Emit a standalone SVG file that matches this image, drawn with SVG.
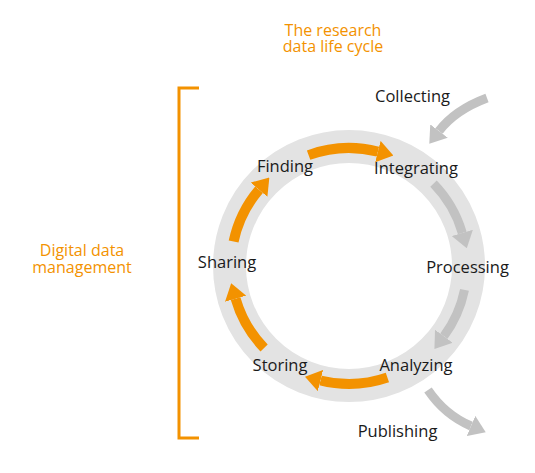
<svg xmlns="http://www.w3.org/2000/svg" width="535" height="473" viewBox="0 0 535 473">
<style>
.lbl{font-family:"Open Sans","Liberation Sans",sans-serif;font-size:16.5px;fill:#1a1a1a;text-anchor:middle}
.ttl{font-family:"Open Sans","Liberation Sans",sans-serif;font-size:16px;fill:#F39200;text-anchor:middle}
.oa{fill:none;stroke:#F39200;stroke-width:10;marker-end:url(#ho)}
.ga{fill:none;stroke:#C2C2C2;stroke-width:9;marker-end:url(#hg)}
</style>
<defs>
<marker id="ho" viewBox="0 0 16 22" refX="0" refY="11" markerWidth="16" markerHeight="22" markerUnits="userSpaceOnUse" orient="auto"><polygon points="0,0 16,11 0,22" fill="#F39200"/></marker>
<marker id="hg" viewBox="0 0 16 22" refX="0" refY="11" markerWidth="16" markerHeight="22" markerUnits="userSpaceOnUse" orient="auto"><polygon points="0,0 16,11 0,22" fill="#C2C2C2"/></marker>
</defs>
<rect width="535" height="473" fill="#fff"/>
<g id="ring"><circle cx="349" cy="266" r="119.5" fill="none" stroke="#E3E3E3" stroke-width="33"/></g>
<g id="bracket"><path d="M199,88 H179 V438 H199" fill="none" stroke="#F39200" stroke-width="3"/></g>
<g id="connectors">
<path class="oa" d="M308.6,155.1 A118,118 0 0 1 377.9,151.6"/>
<path class="oa" d="M233.6,241.5 A118,118 0 0 1 259,189.7"/>
<path class="oa" d="M264.1,348 A118,118 0 0 1 235.6,298.7"/>
<path class="oa" d="M387.4,377.6 A118,118 0 0 1 320.5,380.5"/>
<path class="ga" d="M433.5,183.6 A118,118 0 0 1 462.3,232.9"/>
<path class="ga" d="M464.5,289.9 A118,118 0 0 1 443.9,336.2"/>
<path class="ga" d="M487,98 Q455,110 439,131"/>
<path class="ga" d="M428,390 Q445,415 471,426"/>
</g>
<g id="title"><text class="ttl" x="333" y="36">The research</text><text class="ttl" x="333" y="52">data life cycle</text></g>
<g id="ddm"><text class="ttl" x="82" y="256">Digital data</text><text class="ttl" x="82" y="273">management</text></g>
<g id="collecting"><text class="lbl" x="412.5" y="102">Collecting</text></g>
<g id="integrating"><text class="lbl" x="416" y="174">Integrating</text></g>
<g id="processing"><text class="lbl" x="467.5" y="273">Processing</text></g>
<g id="analyzing"><text class="lbl" x="416" y="371">Analyzing</text></g>
<g id="storing"><text class="lbl" x="280" y="371">Storing</text></g>
<g id="sharing"><text class="lbl" x="227" y="268">Sharing</text></g>
<g id="finding"><text class="lbl" x="285" y="172">Finding</text></g>
<g id="publishing"><text class="lbl" x="397.5" y="437">Publishing</text></g>
</svg>
